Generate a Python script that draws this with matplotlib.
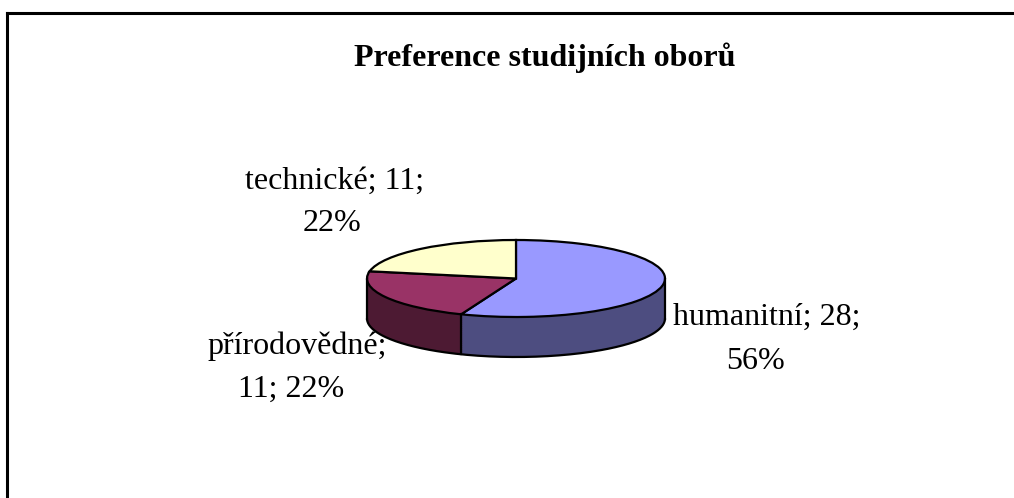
import matplotlib
matplotlib.use("Agg")
import matplotlib.pyplot as plt
from matplotlib.lines import Line2D
import numpy as np

title = "Preference studijních oborů"
categories = ["humanitní", "přírodovědné", "technické"]
values = [28, 11, 11]
percents = [56, 22, 22]
top_colors = ["#9999FF", "#993366", "#FFFFCC"]
side_colors = ["#4D4D80", "#4D1A33", "#808066"]

W, H = 1014, 498
CX, CY, RX, RY, DEPTH = 516, 278.5, 149, 38.5, 40

plt.rcParams['font.family'] = ['Liberation Serif', 'DejaVu Serif']
fig = plt.figure(figsize=(W/100, H/100), dpi=100, facecolor="white")
ax = fig.add_axes([0, 0, 1, 1])

d_unit = DEPTH / RY
# side of the pie: stacked copies of the pie, from the bottom up
for d in np.linspace(d_unit, 0, 60)[:-1]:
    ax.pie(values, colors=side_colors, startangle=90, counterclock=False,
           center=(0, -d), radius=1, frame=True,
           wedgeprops=dict(linewidth=0))
th = np.radians(np.linspace(180, 360, 200))
ax.plot(np.cos(th), np.sin(th) - d_unit, color="black", lw=1.6, solid_capstyle="round")
ax.plot([-1, -1], [0, -d_unit], color="black", lw=1.6)
ax.plot([1, 1], [0, -d_unit], color="black", lw=1.6)
# edge between side faces, at the boundary of the first slice
ang = np.radians(90 - 360 * values[0] / sum(values))
ax.plot([np.cos(ang)] * 2, [np.sin(ang), np.sin(ang) - d_unit], color="black", lw=1.6)
# top face
ax.pie(values, colors=top_colors, startangle=90, counterclock=False,
       center=(0, 0), radius=1, frame=True,
       wedgeprops=dict(edgecolor="black", linewidth=1.6))

ax.set_xlim(-CX / RX, (W - CX) / RX)
ax.set_ylim(-(H - CY) / RY, CY / RY)
ax.set_aspect("auto")
ax.axis("off")

def px(x, y):
    return x / W, 1 - y / H

fs = 23
fig.text(*px(545, 58), title, fontsize=fs, fontweight="bold", ha="center", va="center", color="black")
fig.text(*px(335, 181), f"{categories[2]}; {values[2]};", fontsize=fs, ha="center", va="center")
fig.text(*px(332, 223), f"{percents[2]}%", fontsize=fs, ha="center", va="center")
fig.text(*px(767, 317), f"{categories[0]}; {values[0]};", fontsize=fs, ha="center", va="center")
fig.text(*px(755, 361), f"{percents[0]}%", fontsize=fs, ha="center", va="center")
fig.text(*px(297, 346), f"{categories[1]};", fontsize=fs, ha="center", va="center")
fig.text(*px(291, 389), f"{values[1]}; {percents[1]}%", fontsize=fs, ha="center", va="center")

fig.add_artist(Line2D([7/W, 7/W], [0, 1 - 13/H], color="black", lw=2.2))
fig.add_artist(Line2D([7/W, 1], [1 - 13/H] * 2, color="black", lw=2.2))

fig.savefig("out.png", dpi=100, facecolor="white")
